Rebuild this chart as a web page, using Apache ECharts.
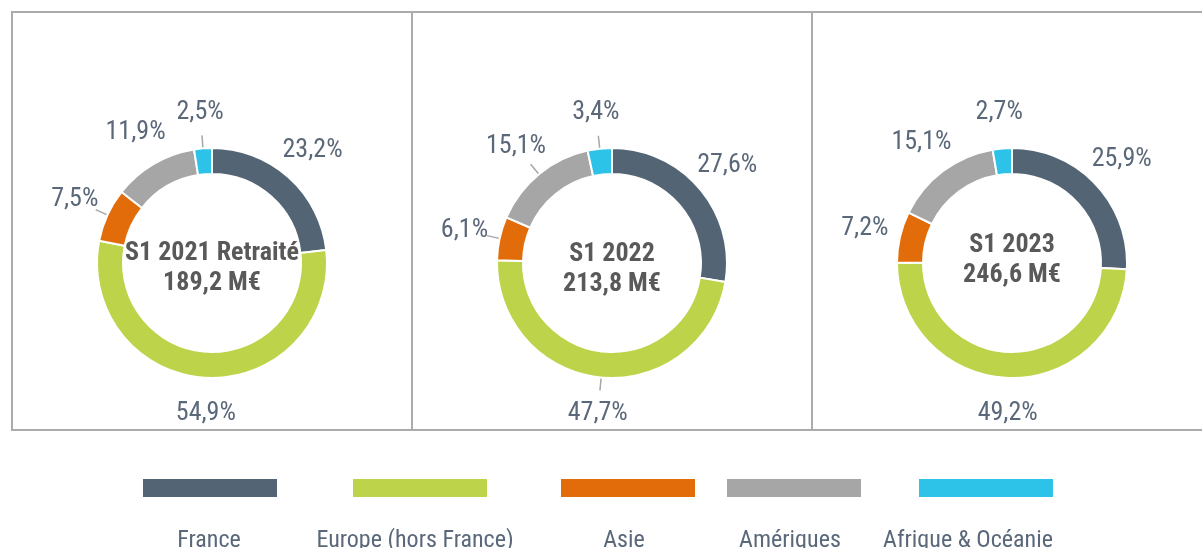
<!DOCTYPE html>
<html>
<head>
<meta charset="utf-8">
<script src="https://cdn.jsdelivr.net/npm/echarts@6/dist/echarts.min.js"></script>
<style>
  html, body { margin: 0; padding: 0; background: #fff; }
  #container { width: 1202px; height: 548px; }
</style>
</head>
<body>
<div id="container"></div>
<script>
var categories = ['France', 'Europe (hors France)', 'Asie', 'Amériques', 'Afrique & Océanie'];
var periods = ['S1 2021 Retraité', 'S1 2022', 'S1 2023'];
var totals = ['189,2 M€', '213,8 M€', '246,6 M€'];
var share2021 = [23.2, 54.9, 7.5, 11.9, 2.5];
var share2022 = [27.6, 47.7, 6.1, 15.1, 3.4];
var share2023 = [25.9, 49.2, 7.2, 15.1, 2.7];
var leaderLines = [
    [false, false, true, false, true],
    [false, true, true, true, true],
    [false, false, false, false, false]
];

var colors = ['#536475', '#bdd34a', '#e36c0a', '#a6a6a6', '#2dc3e8'];
var narrow = "'Liberation Sans Narrow', 'Arial Narrow', 'Roboto Condensed', sans-serif";
var labelColor = '#5a6879';

// layout
var pieCenters = [[212, 263], [612, 263], [1012, 263]];
var titleTops = [238, 239, 230];
var legendLefts = [141, 351, 559, 725, 917];
var legendTextCenters = [209, 415, 624, 790, 968];

var allShares = [share2021, share2022, share2023];

var dom = document.getElementById('container');
var myChart = echarts.init(dom, null, { renderer: 'canvas' });

function midAngle(values, idx) {
    var total = 0, before = 0;
    values.forEach(function (v, i) {
        total += v;
        if (i < idx) before += v;
    });
    return (before + values[idx] / 2) / total * Math.PI * 2;
}

var series = allShares.map(function (values, s) {
    return {
        type: 'pie',
        center: pieCenters[s],
        radius: [89, 115],
        startAngle: 90,
        clockwise: true,
        avoidLabelOverlap: false,
        silent: true,
        itemStyle: { borderColor: '#fff', borderWidth: 2 },
        label: {
            show: true,
            position: 'outside',
            formatter: function (p) {
                return p.value.toFixed(1).replace('.', ',') + '%';
            },
            color: labelColor,
            fontSize: 26,
            fontFamily: narrow
        },
        labelLine: {
            show: false,
            lineStyle: { color: '#a6a6a6', width: 1.5 }
        },
        labelLayout: function (params) {
            var a = midAngle(values, params.dataIndex);
            var c = pieCenters[s];
            var out = {
                x: c[0] + 151 * Math.sin(a),
                y: c[1] - 151 * Math.cos(a),
                align: 'center',
                verticalAlign: 'middle'
            };
            if (leaderLines[s][params.dataIndex]) {
                out.labelLinePoints = [
                    [c[0] + 102 * Math.sin(a), c[1] - 102 * Math.cos(a)],
                    [c[0] + 128 * Math.sin(a), c[1] - 128 * Math.cos(a)]
                ];
            }
            return out;
        },
        data: values.map(function (v, i) {
            return {
                name: categories[i],
                value: v,
                itemStyle: { color: colors[i] },
                labelLine: { show: leaderLines[s][i] }
            };
        })
    };
});

var titles = periods.map(function (p, s) {
    return {
        text: p + '\n' + totals[s],
        left: pieCenters[s][0],
        top: titleTops[s],
        textAlign: 'center',
        padding: 0,
        textStyle: {
            fontSize: 26,
            fontWeight: 'bold',
            lineHeight: 30,
            color: '#595959',
            fontFamily: narrow
        }
    };
}).concat(categories.map(function (name, i) {
    return {
        text: name,
        left: legendTextCenters[i],
        top: 528,
        textAlign: 'center',
        padding: 0,
        textStyle: {
            fontSize: 24,
            fontWeight: 'normal',
            lineHeight: 26,
            color: labelColor,
            fontFamily: narrow
        }
    };
}));

var legends = categories.map(function (name, i) {
    return {
        data: [name],
        left: legendLefts[i],
        top: 477,
        padding: 0,
        icon: 'rect',
        itemWidth: 136,
        itemHeight: 20,
        selectedMode: false,
        formatter: function () { return ''; }
    };
});

var boxStyle = { fill: 'none', stroke: '#ababab', lineWidth: 2 };

option = {
    animation: false,
    color: colors,
    title: titles,
    legend: legends,
    graphic: [
        { type: 'rect', shape: { x: 12, y: 12, width: 400, height: 418 }, style: boxStyle, z: -1 },
        { type: 'rect', shape: { x: 412, y: 12, width: 400, height: 418 }, style: boxStyle, z: -1 },
        { type: 'rect', shape: { x: 812, y: 12, width: 420, height: 418 }, style: boxStyle, z: -1 }
    ],
    series: series
};

myChart.setOption(option);
</script>
</body>
</html>
